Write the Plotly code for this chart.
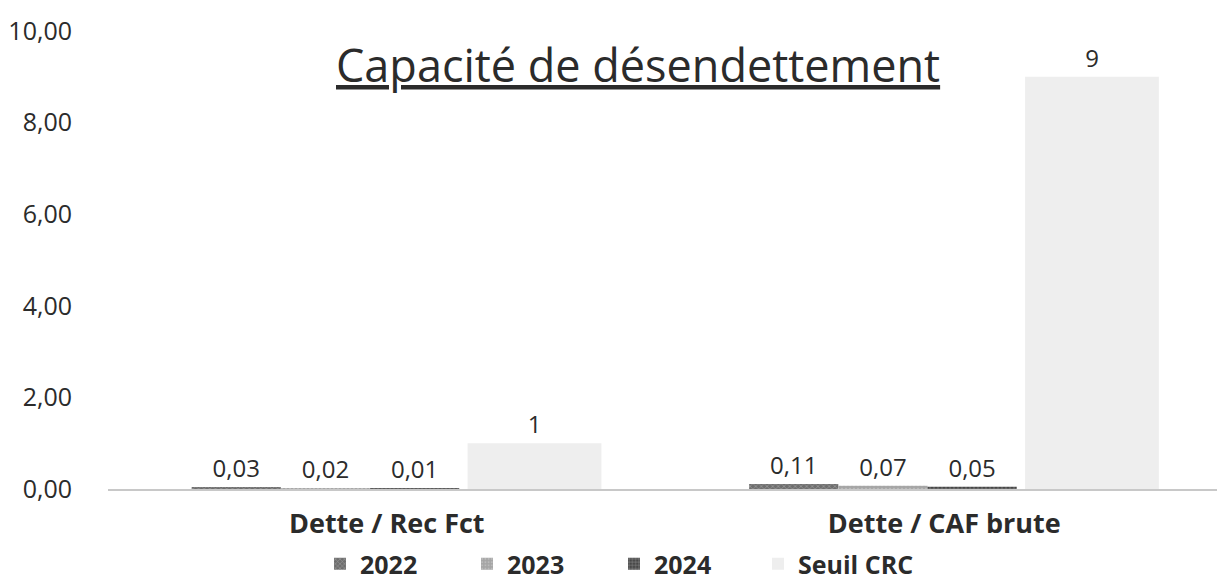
import plotly.graph_objects as go

# --- Données ---
categories = ["Dette / Rec Fct", "Dette / CAF brute"]
serie_2022 = [0.03, 0.11]
serie_2023 = [0.02, 0.07]
serie_2024 = [0.01, 0.05]
seuil_crc = [1, 9]

y_ticks = [0, 2, 4, 6, 8, 10]

police = "Open Sans"
gris_texte = "#2b2b2b"

fig = go.Figure()

series = [
    ("2022", serie_2022, "#6e6e6e", "x", -0.35, 0.16),
    ("2023", serie_2023, "#a5a5a5", ".", -0.19, 0.16),
    ("2024", serie_2024, "#474747", "+", -0.03, 0.16),
]
for nom, valeurs, couleur, motif, decal, larg in series:
    fig.add_trace(go.Bar(
        x=categories, y=valeurs, name=nom,
        offset=decal, width=larg,
        marker=dict(color=couleur, line=dict(width=0),
                    pattern=dict(shape=motif, fgcolor="#cfcfcf", size=4, solidity=0.3)),
        texttemplate="%{y:.2f}", textposition="outside",
        textfont=dict(size=24, color=gris_texte, family=police),
        cliponaxis=False,
    ))

fig.add_trace(go.Bar(
    x=categories, y=seuil_crc, name="Seuil CRC", legend="legend2",
    offset=0.145, width=0.24,
    marker=dict(color="#eeeeee", line=dict(width=0)),
    text=[str(v) for v in seuil_crc], texttemplate="%{text}", textposition="outside",
    textfont=dict(size=24, color=gris_texte, family=police),
    cliponaxis=False,
))

# titre souligné, posé dans la zone du graphique
fig.add_annotation(
    text="<u>Capacité de désendettement</u>",
    x=(630 - 100) / 1115, y=(481 - 57) / 458, xref="paper", yref="paper",
    xanchor="center", yanchor="middle",
    showarrow=False, font=dict(size=45, color=gris_texte, family=police),
)

legende_police = dict(size=25, family=police, color=gris_texte, weight="bold")

fig.update_layout(
    width=1225, height=582,
    paper_bgcolor="white", plot_bgcolor="white",
    separators=", ",
    barmode="group",
    font=dict(family=police, color=gris_texte, size=20),
    margin=dict(l=100, r=10, t=23, b=101, autoexpand=False),
    showlegend=True,
    legend=dict(orientation="h", xref="container", yref="container",
                x=312 / 1225, xanchor="left", y=26 / 582, yanchor="middle",
                font=legende_police,
                entrywidth=102, entrywidthmode="pixels",
                itemwidth=30, tracegroupgap=0),
    legend2=dict(orientation="h", xref="container", yref="container",
                 x=750 / 1225, xanchor="left", y=26 / 582, yanchor="middle",
                 font=legende_police, itemwidth=30),
    xaxis=dict(showline=True, linecolor="#c8c8c8", linewidth=2, ticks="",
               ticklabelstandoff=10,
               tickfont=dict(size=27, family=police, color=gris_texte, weight="bold")),
    yaxis=dict(range=[0, 10], tickvals=y_ticks, tickformat=".2f", showgrid=False,
               zeroline=False, showline=False, ticklabelstandoff=35,
               tickfont=dict(size=25, family=police, color=gris_texte)),
)

fig.write_html("out.html")
